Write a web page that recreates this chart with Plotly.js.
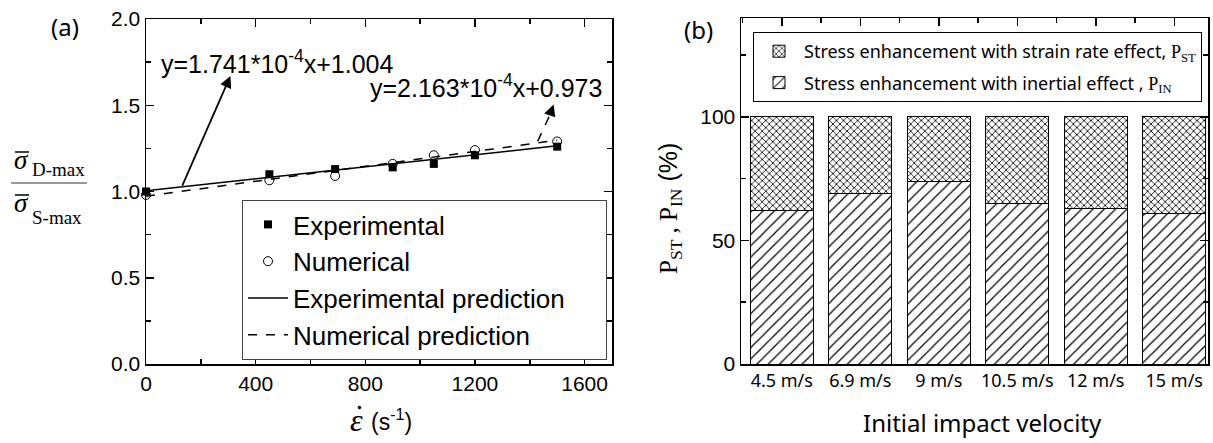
<!DOCTYPE html>
<html><head><meta charset="utf-8">
<script src="https://cdn.plot.ly/plotly-3.0.1.min.js"></script>
<style>body{margin:0;padding:0;background:#fff}#chart{width:1213px;height:443px}</style>
</head><body><div id="chart"></div>
<script>
// ---- Panel (a) data ----
const strainRate = [0, 450, 690, 900, 1050, 1200, 1500];
const expRatio   = [1.00, 1.10, 1.13, 1.14, 1.16, 1.21, 1.26];
const numRatio   = [0.98, 1.065, 1.09, 1.16, 1.21, 1.24, 1.29];
const predX      = [0, 1500];
const expPredY   = [1.004, 1.265];
const numPredY   = [0.973, 1.297];
// ---- Panel (b) data ----
const velocities  = ['4.5 m/s', '6.9 m/s', '9 m/s', '10.5 m/s', '12 m/s', '15 m/s'];
const inertialPct = [62, 69, 74, 65, 63, 61];
const strainPct   = [38, 31, 26, 35, 37, 39];

const W = 1213, H = 443;
const px = v => v / W;
const py = v => 1 - v / H;
const idx = velocities.map((_, i) => i);

const sans = 'Liberation Sans, Arial, sans-serif';
const serif = 'Liberation Serif, Times New Roman, serif';
const noto = 'Noto Sans, sans-serif';
const pad = n => '&nbsp;'.repeat(n);

const traces = [
  {x: strainRate, y: expRatio, type: 'scatter', mode: 'markers', name: 'Experimental',
   marker: {symbol: 'square', size: 8, color: 'black'}, cliponaxis: false, xaxis: 'x', yaxis: 'y'},
  {x: strainRate, y: numRatio, type: 'scatter', mode: 'markers', name: 'Numerical',
   marker: {symbol: 'circle-open', size: 9, color: 'black', line: {width: 1}}, cliponaxis: false, xaxis: 'x', yaxis: 'y'},
  {x: predX, y: expPredY, type: 'scatter', mode: 'lines', name: 'Experimental prediction' + pad(5),
   line: {color: 'black', width: 1.5}, xaxis: 'x', yaxis: 'y'},
  {x: predX, y: numPredY, type: 'scatter', mode: 'lines', name: 'Numerical prediction',
   line: {color: 'black', width: 1.5, dash: 'dash'}, xaxis: 'x', yaxis: 'y'},
  {x: idx, y: inertialPct, type: 'bar', name: 'Stress enhancement with inertial effect , <span style="font-family:Liberation Serif">P<sub>IN</sub></span>',
   xaxis: 'x2', yaxis: 'y2', legend: 'legend2', legendgroup: 'in', legendrank: 2, width: 0.8,
   marker: {color: 'white', line: {color: 'black', width: 1},
            pattern: {shape: '/', fgcolor: 'black', bgcolor: 'white', size: 8, solidity: 0.15}}},
  {x: idx, y: strainPct, type: 'bar', name: 'Stress enhancement with strain rate effect, <span style="font-family:Liberation Serif">P<sub>ST</sub></span>',
   xaxis: 'x2', yaxis: 'y2', legend: 'legend2', legendgroup: 'st', legendrank: 1, width: 0.8,
   marker: {color: 'white', line: {color: 'black', width: 1},
            pattern: {shape: 'x', fgcolor: 'black', bgcolor: 'white', size: 5, solidity: 0.3}}},
  {x: [], y: [], type: 'scatter', xaxis: 'x3', yaxis: 'y2', showlegend: false, hoverinfo: 'skip'}
];

const axBase = {showline: true, linecolor: 'black', linewidth: 1.5, mirror: 'ticks', ticks: 'inside',
  tickcolor: 'black', tickwidth: 1.5, ticklen: 8, showgrid: false, zeroline: false,
  tickfont: {family: sans, size: 21, color: 'black'}};

function ann(text, x, y, font, extra) {
  return Object.assign({text: text, xref: 'paper', yref: 'paper', x: px(x), y: py(y),
    xanchor: 'center', yanchor: 'middle', showarrow: false, font: font}, extra || {});
}

const layout = {
  width: W, height: H, margin: {l: 0, r: 0, t: 0, b: 0},
  paper_bgcolor: 'white', plot_bgcolor: 'white', barmode: 'stack', bargap: 0.2,
  xaxis: Object.assign({}, axBase, {domain: [px(146), px(612)], range: [0, 1700], dtick: 400, tick0: 0,
    minor: {dtick: 200, ticks: 'inside', ticklen: 5, tickcolor: 'black'}, anchor: 'y'}),
  yaxis: Object.assign({}, axBase, {domain: [py(364), py(19)], range: [0, 2], dtick: 0.5, tickformat: '.1f',
    minor: {dtick: 0.25, ticks: 'inside', ticklen: 5, tickcolor: 'black'}, anchor: 'x'}),
  xaxis2: Object.assign({}, axBase, {domain: [px(741), px(1208)], range: [-0.52, 5.43], mirror: true, ticks: '',
    tickvals: idx, ticktext: velocities, tickfont: {family: noto, size: 18, color: 'black'}, anchor: 'y2'}),
  xaxis3: {overlaying: 'x2', side: 'top', anchor: 'y2', range: [-0.52, 5.43], tickvals: idx, ticks: 'inside',
    ticklen: 8, tickwidth: 1.5, tickcolor: 'black', showticklabels: false, showline: false, showgrid: false,
    zeroline: false, minor: {tickvals: [-0.5, 0.5, 1.5, 2.5, 3.5, 4.5], ticks: 'inside', ticklen: 5, tickcolor: 'black'}},
  yaxis2: Object.assign({}, axBase, {domain: [py(364), py(18)], range: [0, 140], tickvals: [0, 50, 100],
    minor: {dtick: 25, ticks: 'inside', ticklen: 5, tickcolor: 'black'}, anchor: 'x2'}),
  legend: {x: px(242), y: py(200), xanchor: 'left', yanchor: 'top', bgcolor: 'white',
    bordercolor: '#444', borderwidth: 1, font: {family: sans, size: 26, color: 'black'}, itemwidth: 40,
    traceorder: 'normal'},
  legend2: {x: px(753), y: py(32), xanchor: 'left', yanchor: 'top', bgcolor: 'white',
    bordercolor: 'black', borderwidth: 1, font: {family: noto, size: 18, color: 'black'},
    traceorder: 'grouped', tracegroupgap: 5, itemwidth: 40},
  shapes: [
    {type: 'line', xref: 'paper', yref: 'paper', x0: px(15), x1: px(29), y0: py(152), y1: py(152), line: {color: 'black', width: 1.5}},
    {type: 'line', xref: 'paper', yref: 'paper', x0: px(11), x1: px(87), y0: py(183), y1: py(183), line: {color: '#777', width: 1.5}},
    {type: 'line', xref: 'paper', yref: 'paper', x0: px(15), x1: px(29), y0: py(195), y1: py(195), line: {color: 'black', width: 1.5}},
    {type: 'circle', xref: 'paper', yref: 'paper', x0: px(358), x1: px(361), y0: py(406), y1: py(409),
     fillcolor: 'black', line: {color: 'black', width: 0.5}},
    {type: 'line', xref: 'x', yref: 'y', x0: 1429, y0: 1.291, x1: 1478, y1: 1.46, line: {color: 'black', width: 1.5, dash: 'dash'}}
  ],
  annotations: [
    ann('(a)', 65, 27, {family: noto, size: 24, color: 'black'}),
    ann('(b)', 698, 29, {family: noto, size: 24, color: 'black'}),
    ann('<i>σ</i>', 21.5, 160, {family: serif, size: 27, color: 'black'}),
    ann('D-max', 30, 169, {family: serif, size: 19, color: 'black'}, {xanchor: 'left'}),
    ann('<i>σ</i>', 21.5, 203, {family: serif, size: 27, color: 'black'}),
    ann('S-max', 30, 217, {family: serif, size: 19, color: 'black'}, {xanchor: 'left'}),
    ann('<i>ε</i>', 356, 420, {family: serif, size: 32, color: 'black'}),
    ann('(s<sup>-1</sup>)', 391, 420, {family: sans, size: 23, color: 'black'}),
    ann('Initial impact velocity', 982, 422, {family: noto, size: 24, color: 'black'}),
    ann(`<span style="font-family:'Liberation Serif'">P<sub>ST</sub> , P<sub>IN</sub></span> (%)`, 670, 208,
        {family: sans, size: 25, color: 'black'}, {textangle: -90}),
    ann('y=1.741*10<sup>-4</sup>x+1.004', 159, 62, {family: sans, size: 25, color: 'black'}, {xanchor: 'left'}),
    ann('y=2.163*10<sup>-4</sup>x+0.973', 368, 86, {family: sans, size: 25, color: 'black'}, {xanchor: 'left'}),
    {text: '', xref: 'x', yref: 'y', axref: 'x', ayref: 'y', x: 308, y: 1.67, ax: 130, ay: 1.025,
     showarrow: true, arrowhead: 2, arrowsize: 1.3, arrowwidth: 1.8, arrowcolor: 'black'},
    {text: '', xref: 'x', yref: 'y', axref: 'x', ayref: 'y', x: 1487, y: 1.505, ax: 1476, ay: 1.455,
     showarrow: true, arrowhead: 2, arrowsize: 1.3, arrowwidth: 1.8, arrowcolor: 'black'}
  ]
};

Plotly.newPlot('chart', traces, layout, {displayModeBar: false, staticPlot: true});
</script></body></html>
